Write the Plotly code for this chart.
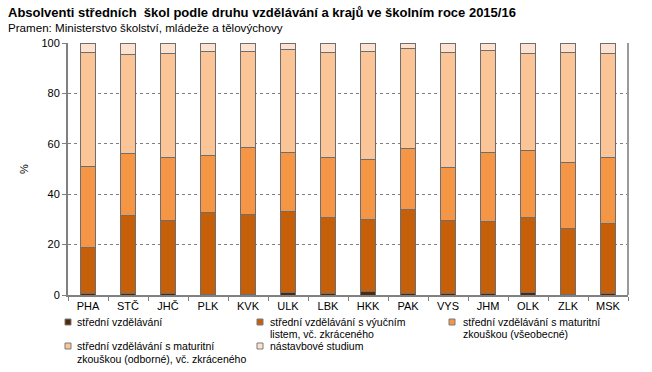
import plotly.graph_objects as go

categories = ["PHA", "STČ", "JHČ", "PLK", "KVK", "ULK", "LBK", "HKK", "PAK", "VYS", "JHM", "OLK", "ZLK", "MSK"]

# shares in %
stredni = [0.6, 0.6, 0.5, 0.1, 0.2, 1.0, 0.6, 1.2, 0.5, 0.5, 0.5, 1.0, 0.1, 0.5]
vyucni = [18.4, 30.9, 29.0, 32.7, 31.8, 32.1, 30.2, 28.7, 33.5, 29.1, 28.7, 29.8, 26.3, 27.9]
maturita_vseob = [32.1, 24.8, 24.9, 22.6, 26.6, 23.6, 23.6, 23.8, 24.3, 21.0, 27.5, 26.7, 26.1, 26.3]
maturita_odb = [45.2, 39.1, 41.3, 41.1, 38.2, 40.6, 42.0, 42.8, 39.4, 45.5, 40.2, 38.3, 43.6, 41.1]
nastavbove = [3.7, 4.6, 4.3, 3.5, 3.2, 2.7, 3.6, 3.5, 2.3, 3.9, 3.1, 4.2, 3.9, 4.2]

series_names = [
    "střední vzdělávání",
    "střední vzdělávání s výučním<br>listem, vč. zkráceného",
    "střední vzdělávání s maturitní<br>zkouškou (všeobecné)",
    "střední vzdělávání s maturitní<br>zkouškou (odborné), vč. zkráceného",
    "nástavbové studium",
]
series_values = [stredni, vyucni, maturita_vseob, maturita_odb, nastavbove]
colors = ["#4f2a0c", "#c65f0a", "#f59646", "#fbc597", "#fde3cf"]

fig = go.Figure()
for name, vals, col in zip(series_names, series_values, colors):
    fig.add_trace(go.Bar(
        x=categories, y=vals, name=name.replace("<br>", " "),
        marker=dict(color=col, line=dict(color="#6e6e6e", width=1)),
        width=0.38,
    ))

font = "Liberation Sans, Arial, sans-serif"
L, R, T, B = 68, 24, 43, 77
W, H = 652, 372
PW, PH = W - L - R, H - T - B

fig.update_layout(
    barmode="stack",
    width=W, height=H,
    margin=dict(l=L, r=R, t=T, b=B),
    plot_bgcolor="white", paper_bgcolor="white",
    font=dict(family=font, size=11, color="#000000"),
    showlegend=False,
    xaxis=dict(
        showline=True, linecolor="#808080", linewidth=2,
        ticks="outside", ticklen=4, tickcolor="#808080",
        tickson="boundaries", showgrid=False,
        tickfont=dict(size=11, color="#000000"),
        automargin=False,
    ),
    yaxis=dict(
        range=[0, 100], tickvals=[0, 20, 40, 60, 80, 100],
        showline=True, linecolor="#808080", linewidth=2,
        ticks="outside", ticklen=4, tickcolor="#808080",
        showgrid=True, gridcolor="#7f7f7f", griddash="dot", gridwidth=1,
        tickfont=dict(size=11, color="#000000"),
        title=dict(text="%", font=dict(size=11), standoff=11),
        zeroline=False, automargin=False,
    ),
)

def px_x(px):
    return (px - L) / PW

def px_y(py):
    return (H - B - py) / PH

# right border line of plot area
fig.add_shape(type="line", xref="paper", yref="paper", x0=1, x1=1, y0=0, y1=1,
              line=dict(color="#9a9a9a", width=2))

# custom legend (square centre x, row centre y, text x, line spacing)
legend_pos = [(68, 322, 75, 11.5), (260, 322, 268, 11.5), (452, 322, 461, 11.5),
              (68, 346, 75, 13), (260, 346, 268, 13)]
for name, col, (cx, cy, tx, ls) in zip(series_names, colors, legend_pos):
    fig.add_shape(type="rect", xref="paper", yref="paper",
                  x0=px_x(cx - 3), x1=px_x(cx + 3), y0=px_y(cy + 3), y1=px_y(cy - 3),
                  fillcolor=col, line=dict(color="#7a7a7a", width=1))
    for i, line in enumerate(name.split("<br>")):
        fig.add_annotation(text=line, xref="paper", yref="paper",
                           x=px_x(tx), y=px_y(cy + i * ls), xanchor="left", yanchor="middle",
                           showarrow=False, font=dict(size=10.5, family=font, color="#000000"))

fig.add_annotation(text="<b>Absolventi středních  škol podle druhu vzdělávání a krajů ve školním roce 2015/16</b>",
                   xref="paper", yref="paper", x=px_x(6), y=px_y(12), xanchor="left", yanchor="middle",
                   showarrow=False, font=dict(size=13, family=font, color="#000000"))
fig.add_annotation(text="Pramen: Ministerstvo školství, mládeže a tělovýchovy",
                   xref="paper", yref="paper", x=px_x(6), y=px_y(28), xanchor="left", yanchor="middle",
                   showarrow=False, font=dict(size=11.6, family=font, color="#000000"))

fig.write_html("out.html", config={"displayModeBar": False},
               post_script="document.body.style.margin='0';")
